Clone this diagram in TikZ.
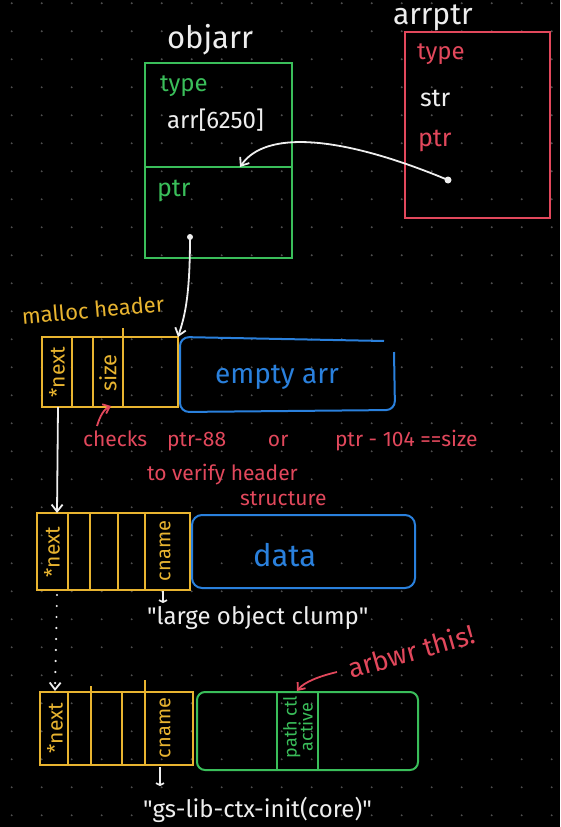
\documentclass[tikz,border=0pt]{standalone}
\usepackage{fontspec}
\setmainfont{Fira Sans}
\setmonofont{Fira Sans}
\usetikzlibrary{arrows.meta}
\definecolor{gcol}{RGB}{58,190,90}
\definecolor{rcol}{RGB}{226,72,92}
\definecolor{ycol}{RGB}{232,180,48}
\definecolor{bcol}{RGB}{42,128,220}
\definecolor{wcol}{RGB}{238,238,238}
\definecolor{dotc}{RGB}{78,78,78}
\newcommand{\fs}[1]{\fontsize{#1}{#1}\selectfont}
\newcommand{\sq}{{\ttfamily"}}
\begin{document}
\begin{tikzpicture}[x=1pt,y=-1pt,
  box/.style={draw, line width=2pt, inner sep=0pt, outer sep=0pt},
  gline/.style={draw=gcol, line width=2pt},
  yline/.style={draw=ycol, line width=2pt},
  bline/.style={draw=bcol, line width=2pt},
  txt/.style={inner sep=0pt, outer sep=0pt, anchor=base west},
  vtxt/.style={inner sep=0pt, outer sep=0pt, rotate=90, anchor=center},
  tipv/.style={-{Straight Barb[length=7pt,width=11pt,line width=1.8pt]}},
  warrow/.style={draw=wcol, line width=1.8pt, tipv},
  rarrow/.style={draw=rcol, line width=1.8pt, -{Straight Barb[length=6pt,width=10pt,line width=1.8pt]}},
  small/.style={draw=wcol, line width=1.6pt, -{Straight Barb[length=2pt,width=8pt,line width=1.6pt]}}
]
\fill[black] (0,0) rectangle (560,827);
\useasboundingbox (0,0) rectangle (560,827);
% dot grid
\foreach \i in {0,...,18}{\foreach \j in {0,...,29}{
  \fill[dotc] (11.7+30*\i, 3.3+28*\j) circle[radius=1.1pt];}}

% ---------- objarr ----------
\node[txt, text=wcol, font=\fs{31}] (objlbl) at (167,48) {objarr};
\node[box, draw=gcol, minimum width=147pt, minimum height=195pt] (objbox) at (218.5,160.5) {};
\coordinate (objslot) at (240,167);
\draw[gline] (objbox.west |- objslot) -- (objbox.east |- objslot);
\node[txt, text=gcol, font=\fs{24}] (objtype) at (160,91) {type};
\node[txt, text=wcol, font=\fs{24}] (objarr) at (167,128) {arr[6250]};
\node[txt, text=gcol, font=\fs{25}] (objptr) at (157,196) {ptr};
\coordinate (objdot) at (190,237);
\fill[wcol] (objdot) circle[radius=3pt];

% ---------- arrptr ----------
\node[txt, text=wcol, font=\fs{30}] (arrlbl) at (393,24) {arrptr};
\node[box, draw=rcol, minimum width=145pt, minimum height=186pt] (arrbox) at (477.5,125) {};
\node[txt, text=rcol, font=\fs{24}] (arrtype) at (417,59) {type};
\node[txt, text=wcol, font=\fs{25}] (arrstr) at (420,106) {str};
\node[txt, text=rcol, font=\fs{25}] (arrptrtxt) at (418,146) {ptr};
\coordinate (arrdot) at (448,180);
\fill[wcol] (arrdot) circle[radius=3.5pt];
\draw[warrow] (arrdot) .. controls (340,135) and (265,130) .. (objslot);

% ---------- malloc header 1 ----------
\node[inner sep=0pt, text=ycol, font=\fs{22}, rotate=5] (mhlbl) at (93,310) {malloc header};
\node[box, draw=ycol, minimum width=136pt, minimum height=70pt] (h1) at (110,372) {};
\draw[yline] (72,337) -- (72,407);
\draw[yline] (93,337) -- (93,407);
\draw[yline] (123,328) -- (123,407);
\node[vtxt, text=ycol, font=\fs{21}] (h1next) at (57,372) {*next};
\node[vtxt, text=ycol, font=\fs{22}] (h1size) at (108,373) {size};
\draw[bline, rounded corners=9pt] (384,341) -- (180,337) -- (180,412) -- (395,410) -- (394,352);
\node[txt, text=bcol, font=\fs{28}] (emptyarr) at (215,383) {empty arr};
\draw[warrow] (objdot) .. controls (190,300) and (184,318) .. (h1.north east);

% ---------- checks note ----------
\node[txt, text=rcol, font=\fs{21}] (chk) at (83,446)
  {\makebox[84pt][l]{checks}\makebox[101pt][l]{ptr-88}\makebox[67pt][l]{or}ptr - 104 ==size};
\node[txt, text=rcol, font=\fs{21}] (chk2) at (147,480) {to verify header};
\node[txt, text=rcol, font=\fs{21}] (chk3) at (240,505) {structure};
\coordinate (chkstart) at (97,426);
\coordinate (sizebot) at (111,406);
\draw[rarrow] (chkstart) .. controls (100,416) and (104,409) .. (sizebot);

% ---------- header 2 ----------
\node[box, draw=ycol, minimum width=153pt, minimum height=77pt] (h2) at (113.5,551.5) {};
\draw[yline] (68,513) -- (68,590);
\draw[yline] (90,513) -- (90,590);
\draw[yline] (118,513) -- (118,590);
\draw[yline] (145,513) -- (145,590);
\node[vtxt, text=ycol, font=\fs{21}] (h2next) at (52,552) {*next};
\node[vtxt, text=ycol, font=\fs{20}] (h2cname) at (165,551) {cname};
\node[box, draw=bcol, rounded corners=10pt, minimum width=223pt, minimum height=73pt] (data) at (303.5,551.5) {};
\node[txt, text=bcol, font=\fs{31}] (datatxt) at (253,566) {data};
\coordinate (h1nx) at (58,407);
\coordinate (h2nx) at (57,513);
\draw[warrow] (h1nx) -- (h2nx);
\coordinate (h2cn) at (163,591);
\coordinate (lobjtop) at (163,603);
\draw[small] (h2cn) -- (lobjtop);
\node[txt, text=wcol, font=\fs{24}] (lobj) at (147,624) {\sq large object clump\sq};

% ---------- header 3 ----------
\node[box, draw=ycol, minimum width=153pt, minimum height=73pt] (h3) at (116.5,728.5) {};
\draw[yline] (68,692) -- (68,765);
\draw[yline] (91,686) -- (91,765);
\draw[yline] (122,692) -- (122,765);
\draw[yline] (145,680) -- (145,765);
\node[vtxt, text=ycol, font=\fs{21}] (h3next) at (55,728) {*next};
\node[vtxt, text=ycol, font=\fs{20}] (h3cname) at (165,728) {cname};
\node[box, draw=gcol, rounded corners=8pt, minimum width=221pt, minimum height=78pt] (ctx) at (307.5,731) {};
\draw[gline] (277,692) -- (277,770);
\draw[gline] (318,692) -- (318,770);
\node[vtxt, text=gcol, font=\fs{18}, align=center] (pathctl) at (298,727) {path ctl\\[-2pt]active};
\coordinate (h2dot) at (57,595);
\coordinate (h3nx) at (55,691);
\draw[draw=wcol, line width=2.4pt, line cap=round, dash pattern=on 0pt off 11pt, tipv] (h2dot) -- (h3nx);
\coordinate (h3cn) at (160,767);
\coordinate (gstop) at (160,786);
\draw[small] (h3cn) -- (gstop);
\node[txt, text=wcol, font=\fs{24}] (gslib) at (143,817) {\sq gs-lib-ctx-init(core)\sq};

% ---------- arbwr note ----------
\node[inner sep=0pt, text=rcol, font=\fs{27}, rotate=16] (arbwr) at (411,651) {arbwr this!};
\coordinate (arbstart) at (337,672);
\coordinate (ctltop) at (297,691);
\draw[rarrow] (arbstart) .. controls (320,676) and (304,682) .. (ctltop);
\end{tikzpicture}
\end{document}
